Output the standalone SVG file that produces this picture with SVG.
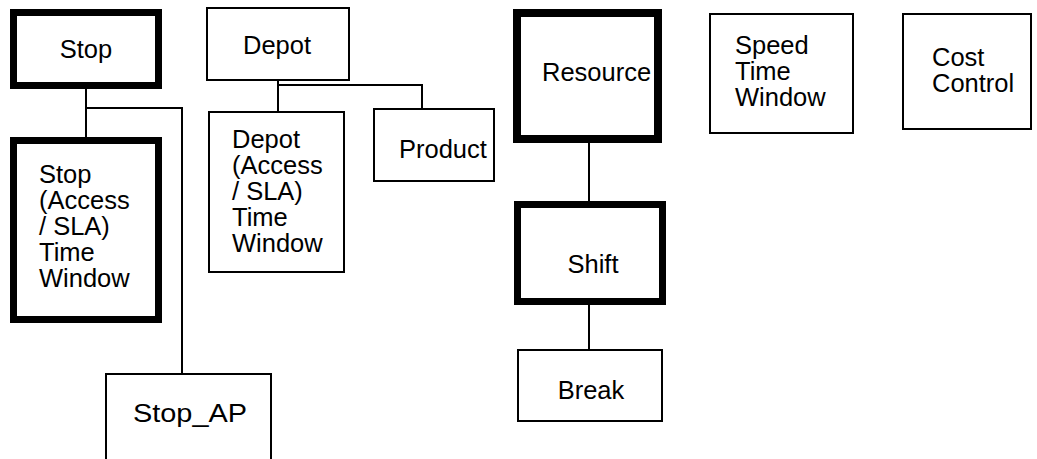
<svg xmlns="http://www.w3.org/2000/svg" width="1037" height="459" viewBox="0 0 1037 459">
  <style>
    .box { fill: #fff; stroke: #000; stroke-width: 2; }
    .key { fill: #fff; stroke: #000; stroke-width: 7; }
    .lbl { font-family: "Liberation Sans", Arial, sans-serif; font-size: 25.5px; fill: #000; }
    .mid { text-anchor: middle; }
    .link { fill: none; stroke: #000; stroke-width: 2; }
  </style>
  <rect width="1037" height="459" fill="#fff"/>

  <!-- connectors -->
  <g id="connectors">
    <path class="link" d="M86 89 V137"/>
    <path class="link" d="M86 108 H182 V373"/>
    <path class="link" d="M278 81 V111"/>
    <path class="link" d="M278 85 H422 V108"/>
    <path class="link" d="M589 133 V201"/>
    <path class="link" d="M589 305 V350"/>
  </g>

  <g id="stop">
    <rect class="key" x="13.5" y="12.5" width="145" height="73"/>
    <text class="lbl mid" x="86" y="58">Stop</text>
  </g>

  <g id="stop-time-window">
    <rect class="key" x="13.5" y="140.5" width="145" height="179"/>
    <text class="lbl" x="39" y="183">Stop</text>
    <text class="lbl" x="39" y="209">(Access</text>
    <text class="lbl" x="39" y="235">/ SLA)</text>
    <text class="lbl" x="39" y="261">Time</text>
    <text class="lbl" x="39" y="287">Window</text>
  </g>

  <g id="stop-ap">
    <rect class="box" x="106" y="374" width="165" height="100"/>
    <text class="lbl" x="133" y="422" textLength="114" lengthAdjust="spacingAndGlyphs">Stop_AP</text>
  </g>

  <g id="depot">
    <rect class="box" x="207" y="8" width="142" height="72"/>
    <text class="lbl mid" x="277" y="54">Depot</text>
  </g>

  <g id="depot-time-window">
    <rect class="box" x="209" y="112" width="135" height="160"/>
    <text class="lbl" x="232" y="148">Depot</text>
    <text class="lbl" x="232" y="174">(Access</text>
    <text class="lbl" x="232" y="200">/ SLA)</text>
    <text class="lbl" x="232" y="226">Time</text>
    <text class="lbl" x="232" y="252">Window</text>
  </g>

  <g id="product">
    <rect class="box" x="374" y="109" width="120" height="72"/>
    <text class="lbl" x="399" y="158">Product</text>
  </g>

  <g id="resource">
    <rect class="key" x="517" y="13" width="141" height="126" style="stroke-width:8"/>
    <text class="lbl" x="542" y="81">Resource</text>
  </g>

  <g id="shift">
    <rect class="key" x="517.5" y="204.5" width="145" height="97"/>
    <text class="lbl mid" x="593" y="273">Shift</text>
  </g>

  <g id="break">
    <rect class="box" x="518" y="350" width="144" height="71"/>
    <text class="lbl mid" x="591" y="399">Break</text>
  </g>

  <g id="speed-time-window">
    <rect class="box" x="710" y="14" width="143" height="119"/>
    <text class="lbl" x="735" y="54">Speed</text>
    <text class="lbl" x="735" y="80">Time</text>
    <text class="lbl" x="735" y="106">Window</text>
  </g>

  <g id="cost-control">
    <rect class="box" x="903" y="14" width="128" height="115"/>
    <text class="lbl" x="932" y="66">Cost</text>
    <text class="lbl" x="932" y="92">Control</text>
  </g>
</svg>
